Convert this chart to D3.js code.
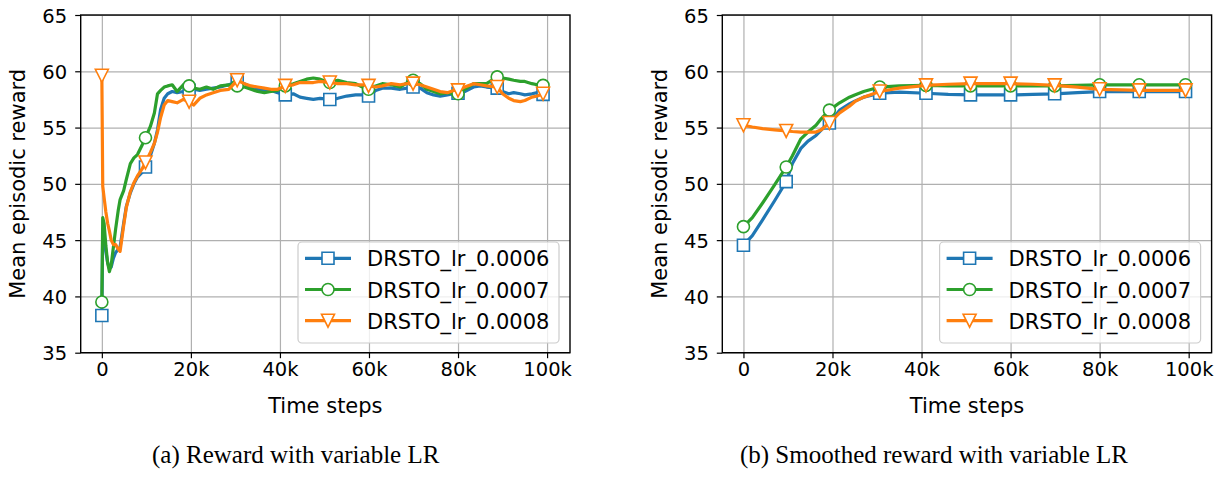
<html>
<head>
    <title>DRSTO reward with variable LR</title>
    <script src="https://d3js.org/d3.v7.min.js"></script>
    <style>
        body { margin: 0; background: #fff; }
        text { font-family: "DejaVu Sans", sans-serif; }
    </style>
</head>
<body>
    <div id="myPlot"></div>
    <script>
        // series names / colours / markers
        var seriesNames = ["DRSTO_lr_0.0006", "DRSTO_lr_0.0007", "DRSTO_lr_0.0008"];
        var seriesColors = ["#1f77b4", "#2ca02c", "#ff7f0e"];
        var seriesMarkers = ["square", "circle", "triangle"];

        // ticks
        var yTicks = [35, 40, 45, 50, 55, 60, 65];
        var xTicks = [0, 20000, 40000, 60000, 80000, 100000];
        var xTickLabels = ["0", "20k", "40k", "60k", "80k", "100k"];

        // (a) raw reward
        var leftSteps = [0, 200, 500, 900, 1300, 1700, 2100, 2600, 3100, 3700, 4100, 4900, 5500, 6400, 7200, 8000, 9000, 9800,
            10900, 11800, 12500, 13200, 14000, 14800, 15800, 16900, 18300, 19600, 20600, 22000, 23500, 25000, 26600, 28500,
            30400, 32000, 33500, 35000, 36500, 38000, 39500, 41200, 43000, 44500, 46000, 47500, 49000, 51200, 53000, 55000,
            57000, 58500, 59900, 61500, 63000, 65000, 67000, 68600, 69900, 71500, 73000, 74500, 76000, 77600, 79000, 80000,
            81500, 83500, 85000, 86400, 88800, 90000, 91400, 92500, 94000, 95000, 96600, 97800, 99100];
        var leftBlue = [38.3, 46.0, 45.5, 44.0, 43.0, 42.5, 42.6, 43.4, 43.9, 44.2, 44.4, 46.5, 48.0, 49.2, 50.0, 50.6, 51.0, 51.5,
            52.5, 53.6, 54.8, 56.6, 57.6, 58.0, 58.2, 58.1, 58.2, 58.3, 58.4, 58.3, 58.4, 58.5, 58.6, 58.8,
            59.05, 58.9, 58.6, 58.4, 58.3, 58.3, 58.1, 57.9, 58.0, 57.7, 57.6, 57.5, 57.6, 57.5, 57.6, 57.8,
            57.9, 57.9, 57.8, 58.3, 58.5, 58.5, 58.4, 58.5, 58.6, 58.5, 58.1, 57.9, 57.8, 57.9, 58.0, 58.05,
            58.2, 58.6, 58.7, 58.6, 58.5, 58.2, 58.0, 58.1, 58.0, 57.9, 58.0, 58.1, 57.95];
        var leftGreen = [39.5, 47.0, 46.5, 44.5, 43.0, 42.2, 42.8, 44.4, 46.0, 47.7, 48.6, 49.4, 50.4, 51.8, 52.3, 52.6, 53.4, 54.1,
            55.1, 56.3, 58.0, 58.3, 58.6, 58.7, 58.8, 58.2, 58.8, 58.7, 58.5, 58.4, 58.6, 58.4, 58.7, 58.8,
            58.7, 58.6, 58.4, 58.2, 58.1, 58.2, 58.3, 58.7, 58.9, 59.1, 59.3, 59.4, 59.3, 59.0, 59.2, 59.0,
            58.9, 58.6, 58.4, 58.7, 58.9, 58.8, 58.6, 59.0, 59.2, 58.9, 58.4, 58.2, 58.0, 58.1, 58.0, 58.0,
            58.4, 58.9, 58.9, 58.9, 59.5, 59.4, 59.3, 59.2, 59.1, 59.1, 58.9, 58.8, 58.75];
        var leftOrange = [59.6, 49.8, 48.8, 47.5, 46.5, 45.8, 45.0, 44.6, 44.6, 44.2, 44.0, 46.3, 47.9, 49.3, 50.1, 50.7, 51.3, 51.9,
            52.8, 53.6, 54.6, 55.9, 57.0, 57.4, 57.3, 57.2, 57.5, 57.3, 57.0, 57.6, 57.9, 58.1, 58.3, 58.4,
            59.2, 58.9, 58.7, 58.6, 58.5, 58.4, 58.4, 58.7, 58.8, 59.0, 59.0, 59.0, 59.1, 59.0, 58.9, 58.9,
            58.8, 58.8, 58.7, 58.6, 58.7, 58.9, 58.8, 58.9, 58.9, 58.8, 58.6, 58.4, 58.2, 58.1, 58.3, 58.3,
            58.6, 58.9, 58.8, 58.7, 58.6, 58.0, 57.6, 57.4, 57.3, 57.4, 57.7, 57.8, 58.0];
        var leftMarkSteps = [0, 9800, 19600, 30400, 41200, 51200, 59900, 69900, 80000, 88800, 99100];

        // (b) smoothed reward
        var rightSteps = [0, 2000, 4300, 7000, 9600, 11000, 12900, 14500, 16300, 17500, 19300, 21600, 23800, 25000, 27000,
            30600, 35000, 41000, 46000, 51000, 55000, 60000, 65000, 69900, 75000, 80000, 85000, 88900, 94000, 99300];
        var rightBlue = [44.55, 45.4, 46.8, 48.5, 50.2, 51.8, 53.15, 53.8, 54.3, 54.8, 55.4, 56.55, 57.1, 57.35, 57.7,
            58.05, 58.15, 58.05, 57.95, 57.9, 57.9, 57.9, 57.95, 58.0, 58.1, 58.2, 58.2, 58.2, 58.2, 58.2];
        var rightGreen = [46.2, 47.0, 48.3, 49.9, 51.5, 52.5, 54.0, 54.6, 55.2, 55.8, 56.55, 57.2, 57.7, 57.9, 58.2,
            58.6, 58.7, 58.75, 58.7, 58.7, 58.7, 58.7, 58.7, 58.7, 58.75, 58.8, 58.8, 58.8, 58.8, 58.8];
        var rightOrange = [55.2, 55.05, 54.9, 54.8, 54.7, 54.65, 54.6, 54.6, 54.6, 54.8, 55.4, 56.3, 56.9, 57.3, 57.7,
            58.2, 58.5, 58.75, 58.85, 58.9, 58.9, 58.9, 58.85, 58.75, 58.6, 58.4, 58.35, 58.3, 58.3, 58.3];
        var rightMarkSteps = [0, 9600, 19300, 30600, 41000, 51000, 60000, 69900, 80000, 88900, 99300];

        var captions = ["(a) Reward with variable LR", "(b) Smoothed reward with variable LR"];

        var svg = d3.select("#myPlot").append("svg")
            .attr("width", 1223)
            .attr("height", 479);

        function markerPath(type) {
            if (type == "square") return d3.symbol(d3.symbolSquare, 144)();
            if (type == "circle") return d3.symbol(d3.symbolCircle, 113)();
            var r = 6.5;
            return "M" + (-r) + "," + (-r) + "L" + r + "," + (-r) + "L0," + r + "Z";
        }

        function drawPanel(offsetX, steps, seriesValues, markSteps, caption, captionX) {
            var x0 = 80.7 + offsetX, x1 = 570 + offsetX, y0 = 15, y1 = 352.7;
            var g = svg.append("g");

            var xScale = d3.scaleLinear().domain([-4750, 105150]).range([x0, x1]);
            var yScale = d3.scaleLinear().domain([35, 65]).range([y1, y0]);

            // grid
            g.append("g")
                .attr("transform", "translate(0," + y1 + ")")
                .call(d3.axisBottom(xScale).tickValues(xTicks).tickSize(-(y1 - y0)).tickFormat(""))
                .call(function (a) { a.select(".domain").remove(); })
                .selectAll("line").attr("stroke", "#b0b0b0").attr("stroke-width", 1.2);
            g.append("g")
                .attr("transform", "translate(" + x0 + ",0)")
                .call(d3.axisLeft(yScale).tickValues(yTicks).tickSize(-(x1 - x0)).tickFormat(""))
                .call(function (a) { a.select(".domain").remove(); })
                .selectAll("line").attr("stroke", "#b0b0b0").attr("stroke-width", 1.2);

            // lines
            var line = d3.line()
                .x(function (d) { return xScale(d[0]); })
                .y(function (d) { return yScale(d[1]); });

            seriesValues.forEach(function (vals, k) {
                var pts = steps.map(function (s, i) { return [s, vals[i]]; });
                g.append("path")
                    .datum(pts)
                    .attr("d", line)
                    .attr("fill", "none")
                    .attr("stroke", seriesColors[k])
                    .attr("stroke-width", 3.2)
                    .attr("stroke-linejoin", "round");
                g.selectAll(".m" + k)
                    .data(pts.filter(function (d) { return markSteps.indexOf(d[0]) >= 0; }))
                    .enter()
                    .append("path")
                    .attr("class", "m" + k)
                    .attr("d", markerPath(seriesMarkers[k]))
                    .attr("transform", function (d) { return "translate(" + xScale(d[0]) + "," + yScale(d[1]) + ")"; })
                    .attr("fill", "white")
                    .attr("stroke", seriesColors[k])
                    .attr("stroke-width", 1.6);
            });

            // axes
            var ax = g.append("g")
                .attr("transform", "translate(0," + y1 + ")")
                .call(d3.axisBottom(xScale).tickValues(xTicks).tickSize(5.5).tickPadding(4)
                    .tickFormat(function (d, i) { return xTickLabels[i]; }));
            ax.select(".domain").remove();
            ax.selectAll("line").attr("stroke", "black").attr("stroke-width", 1.2);
            ax.selectAll("text").attr("font-size", "19.5px").attr("fill", "black")
                .attr("font-family", "DejaVu Sans");

            var ay = g.append("g")
                .attr("transform", "translate(" + x0 + ",0)")
                .call(d3.axisLeft(yScale).tickValues(yTicks).tickSize(5.5).tickPadding(8));
            ay.select(".domain").remove();
            ay.selectAll("line").attr("stroke", "black").attr("stroke-width", 1.2);
            ay.selectAll("text").attr("font-size", "19.5px").attr("fill", "black")
                .attr("font-family", "DejaVu Sans").attr("dy", "0.36em");

            // frame
            g.append("rect")
                .attr("x", x0).attr("y", y0)
                .attr("width", x1 - x0).attr("height", y1 - y0)
                .attr("fill", "none").attr("stroke", "black").attr("stroke-width", 1.4);

            // labels
            g.append("text")
                .attr("x", (x0 + x1) / 2).attr("y", 413)
                .attr("text-anchor", "middle")
                .attr("font-size", "21px")
                .text("Time steps");
            g.append("text")
                .attr("transform", "translate(" + (25 + offsetX) + "," + ((y0 + y1) / 2) + ") rotate(-90)")
                .attr("text-anchor", "middle")
                .attr("font-size", "21px")
                .text("Mean episodic reward");

            // legend
            var lx = x0 + 217.3, ly = 242;
            g.append("rect")
                .attr("x", lx).attr("y", ly).attr("width", 261).attr("height", 101)
                .attr("rx", 4)
                .attr("fill", "white").attr("fill-opacity", 0.8)
                .attr("stroke", "#cccccc").attr("stroke-width", 1.2);
            seriesNames.forEach(function (name, k) {
                var ry = 258.3 + k * 31.2;
                g.append("line")
                    .attr("x1", lx + 7).attr("x2", lx + 53)
                    .attr("y1", ry).attr("y2", ry)
                    .attr("stroke", seriesColors[k]).attr("stroke-width", 3.2);
                g.append("path")
                    .attr("d", markerPath(seriesMarkers[k]))
                    .attr("transform", "translate(" + (lx + 30) + "," + ry + ")")
                    .attr("fill", "white")
                    .attr("stroke", seriesColors[k])
                    .attr("stroke-width", 1.6);
                g.append("text")
                    .attr("x", lx + 69).attr("y", ry + 8)
                    .attr("font-size", "21px")
                    .text(name);
            });

            // caption
            g.append("text")
                .attr("x", captionX).attr("y", 463)
                .attr("text-anchor", "middle")
                .style("font-family", "'Liberation Serif', 'Times New Roman', serif")
                .attr("font-size", "25px")
                .text(caption);
        }

        drawPanel(0, leftSteps, [leftBlue, leftGreen, leftOrange], leftMarkSteps, captions[0], 295.7);
        drawPanel(641.6, rightSteps, [rightBlue, rightGreen, rightOrange], rightMarkSteps, captions[1], 934);
    </script>
</body>
</html>
